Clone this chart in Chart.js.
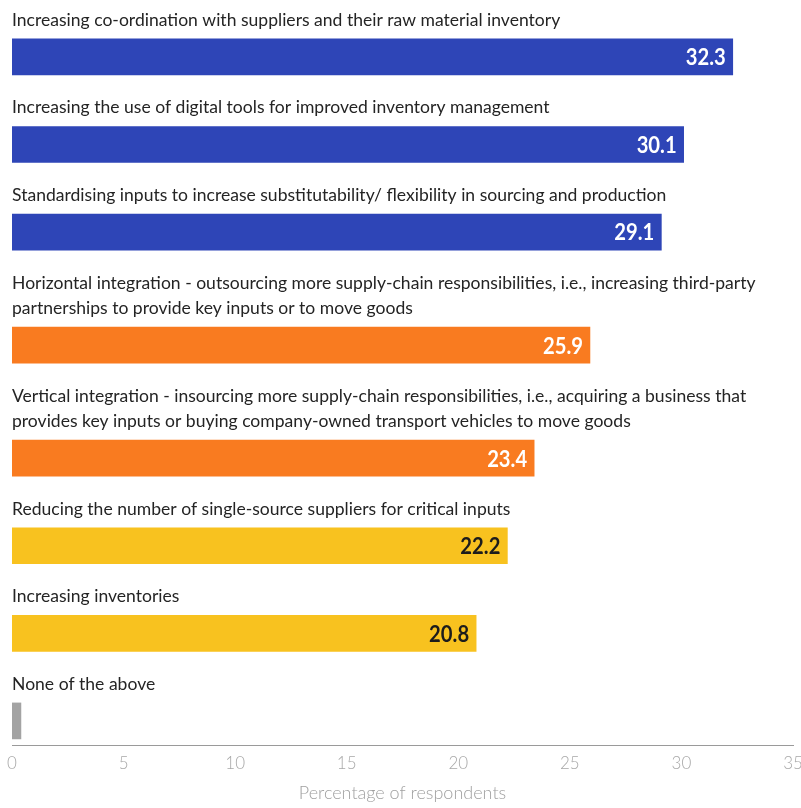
<!DOCTYPE html>
<html>
<head>
<meta charset="utf-8">
<script src="https://cdn.jsdelivr.net/npm/chart.js@4/dist/chart.umd.min.js"></script>
<style>
  html, body { margin: 0; padding: 0; background: #fff; }
  #wrap { width: 801px; height: 808px; position: relative; }
</style>
</head>
<body>
<div id="wrap"><canvas id="measuresChart"></canvas></div>
<script>
// categories, one entry per row (arrays are multi-line labels)
var categories = [
  'Increasing co-ordination with suppliers and their raw material inventory',
  'Increasing the use of digital tools for improved inventory management',
  'Standardising inputs to increase substitutability/ flexibility in sourcing and production',
  ['Horizontal integration - outsourcing more supply-chain responsibilities, i.e., increasing third-party',
   'partnerships to provide key inputs or to move goods'],
  ['Vertical integration - insourcing more supply-chain responsibilities, i.e., acquiring a business that',
   'provides key inputs or buying company-owned transport vehicles to move goods'],
  'Reducing the number of single-source suppliers for critical inputs',
  'Increasing inventories',
  'None of the above'
]
var values = [32.3, 30.1, 29.1, 25.9, 23.4, 22.2, 20.8, 0.4]
var groups = ['blue', 'blue', 'blue', 'orange', 'orange', 'yellow', 'yellow', 'grey']
var xTicks = [0, 5, 10, 15, 20, 25, 30, 35]

var groupColors = { blue: '#2e45b7', orange: '#f97b20', yellow: '#f8c21f', grey: '#a3a3a3' }
var valueColors = { blue: '#ffffff', orange: '#ffffff', yellow: '#1c1c1c', grey: '#1c1c1c' }
var FONT = 'Lato'

// rows with two-line labels get a bit more room above them
var extraLine = 0.291
var rowPos = []
var acc = 0
categories.forEach(function (c, i) {
  acc += ([].concat(c).length - 1) * extraLine
  rowPos.push(i + acc)
})

// labels sit above each bar, value inside the bar end
var rowLabels = {
  id: 'rowLabels',
  afterDatasetsDraw: function (chart) {
    var ctx = chart.ctx
    var meta = chart.getDatasetMeta(0)
    var left = chart.chartArea.left
    meta.data.forEach(function (bar, i) {
      var top = bar.y - bar.height / 2
      var lines = [].concat(categories[i])
      ctx.save()
      ctx.font = '18px ' + FONT
      ctx.fillStyle = '#242424'
      ctx.textAlign = 'left'
      ctx.textBaseline = 'alphabetic'
      ctx.translate(left, 0)
      ctx.scale(0.975, 1)
      lines.forEach(function (ln, k) {
        ctx.fillText(ln, 0, top - 13 - (lines.length - 1 - k) * 25)
      })
      ctx.restore()

      if (values[i] >= 5) {
        ctx.save()
        ctx.font = 'bold 23px ' + FONT
        ctx.fillStyle = valueColors[groups[i]]
        ctx.textAlign = 'right'
        ctx.textBaseline = 'middle'
        ctx.translate(bar.x - 7, bar.y + 1)
        ctx.scale(0.88, 1)
        ctx.fillText(values[i].toFixed(1), 0, 0)
        ctx.restore()
      }
    })
  }
}

var ctx = document.getElementById('measuresChart').getContext('2d')
new Chart(ctx, {
  type: 'bar',
  data: {
    datasets: [{
      data: values.map(function (v, i) { return { x: v, y: rowPos[i] } }),
      backgroundColor: groups.map(function (g) { return groupColors[g] }),
      borderWidth: 0,
      barThickness: 36
    }]
  },
  options: {
    indexAxis: 'y',
    responsive: true,
    maintainAspectRatio: false,
    animation: false,
    layout: { padding: { left: 12, right: 0, top: 0, bottom: 4 } },
    plugins: { legend: { display: false }, tooltip: { enabled: false } },
    scales: {
      y: {
        type: 'linear',
        reverse: true,
        offset: false,
        display: false,
        min: -0.65,
        max: rowPos[rowPos.length - 1] + 0.275
      },
      x: {
        type: 'linear',
        min: xTicks[0],
        max: xTicks[xTicks.length - 1],
        afterFit: function (scale) { scale.paddingRight = 8 },
        grid: { display: false, drawTicks: true, tickLength: 8 },
        border: { display: true, color: '#9a9a9a', width: 1 },
        ticks: {
          stepSize: 5,
          padding: 0,
          color: '#a8a8a8',
          font: { family: FONT, size: 17, weight: 300 }
        },
        title: {
          display: true,
          text: 'Percentage of respondents',
          color: '#a0a0a0',
          font: { family: FONT, size: 18, weight: 300 },
          padding: { top: 9, bottom: 0 }
        }
      }
    }
  },
  plugins: [rowLabels]
})
</script>
</body>
</html>
